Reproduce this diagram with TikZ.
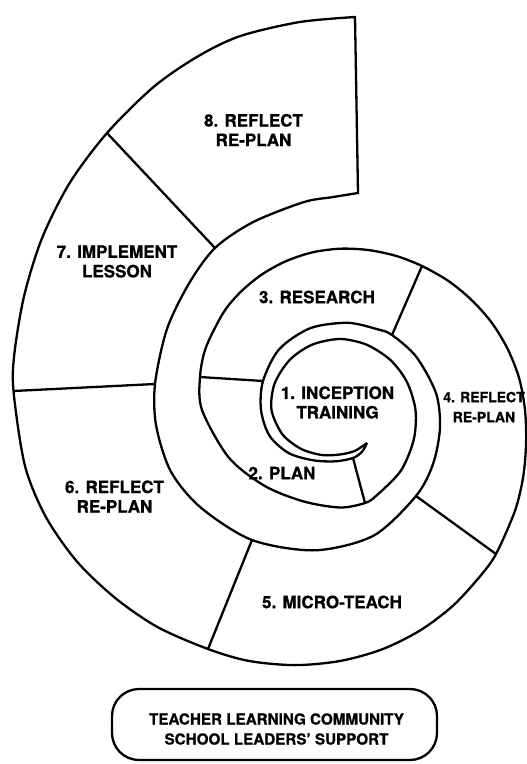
\documentclass[tikz,border=0pt]{standalone}
\usepackage{fontspec}
\setmainfont{TeX Gyre Heros}[BoldFeatures={FakeBold=0.8}]
\begin{document}
\begin{tikzpicture}[x=1pt,y=-1pt,
  shell/.style={line width=2.3pt, line join=miter, miter limit=20},
  wall/.style={line width=2.3pt},
  lbl/.style={font=\bfseries\fontsize{17}{19.5}\selectfont, align=center, inner sep=0pt},
  smalllbl/.style={font=\bfseries\fontsize{14}{20}\selectfont, align=center, inner sep=0pt},
  boxlbl/.style={font=\bfseries\fontsize{15.2}{20}\selectfont, align=center, inner sep=0pt}]

\useasboundingbox[fill=white] (0,0) rectangle (527,764);

% points where the chamber walls meet the two spiral edges
\coordinate (tip)  at (367,443);
\coordinate (q12)  at (353,458); \coordinate (p12) at (365,503);
\coordinate (p23)  at (200,377); \coordinate (q23) at (263,381);
\coordinate (p34)  at (422,266); \coordinate (q34) at (392,335);
\coordinate (q45)  at (416,496); \coordinate (p45) at (496,554);
\coordinate (q56)  at (252,540); \coordinate (p56) at (208,649);
\coordinate (q67)  at (155,384); \coordinate (p67) at (13.5,391);
\coordinate (q78)  at (215,248); \coordinate (p78) at (107,133);
\coordinate (pend) at (355,17);  \coordinate (qend) at (358,193);

% the shell: outer spiral edge from the tip, the end wall, inner edge back to the tip
\draw[shell]
  plot[smooth, tension=0.5] coordinates {
    (tip) (354.9,450.9) (340,454.5) (321.8,455) (301.1,448.9) (282.5,434.4)
    (271.5,410) (274.6,383.6) (289.8,359.8) (312.3,344.6) (340,339)
    (366.4,344.6) (390.2,359.8) (406.8,381.7) (415.5,410) (413.7,439.8)
    (400.8,470.8) (376.4,495.6) (p12) (340,507.5) (303.1,501.3)
    (264.3,485.7) (228.6,457.3) (202,410) (p23) (205.9,347.5)
    (223.6,312.3) (240.8,291.8) (261.8,274.5) (285.9,261.2) (312.2,252.4)
    (340,248.7) (368.2,250) (396.1,255.9) (p34) (448.3,280.9)
    (471.4,299.8) (491.6,322.5) (507.7,349) (519.2,378.4) (525,410)
    (526.1,442.8) (523.2,476.7) (514.9,511) (p45) (479.8,576.6)
    (453,605.7) (420.2,630.4) (382.2,649.3) (340,661) (295,665.1)
    (248.7,660.9) (p56) (157.8,627.2) (115.6,598.3) (77.2,561.8)
    (45.9,517) (24.9,465.6) (p67) (14.5,352.6) (24.3,295.1) (42.1,238)
    (69.6,183.1) (p78) (153.5,87) (197.3,56.7) (239.8,36.2)
    (299.2,22.1) (pend)}
  -- plot[smooth, tension=0.5] coordinates {
    (qend) (332.6,197.1) (303.4,202.2) (252.5,222.4) (q78) (189.1,283.3)
    (166.9,329.2) (q67) (156.2,426.1) (170.9,471.6) (200.7,507.5) (q56)
    (315.3,550.3) (373.6,535.6) (q45) (433.1,463.8) (440,427.6)
    (436,393.1) (416.2,356.7) (q34) (377.6,329.3) (347.6,322.8)
    (310.2,328.2) (279.2,349.2) (q23) (261,410) (269.5,435.7)
    (288.7,453.1) (313.3,460.3) (335.5,461.3) (q12) (362.1,451.7) (tip)};

% chamber walls
\draw[wall] (q12) -- (p12);
\draw[wall] (q23) -- (p23);
\draw[wall] (q34) -- (p34);
\draw[wall] (q45) -- (p45);
\draw[wall] (q56) -- (p56);
\draw[wall] (q67) -- (p67);
\draw[wall] (q78) -- (p78);

% chamber labels
\node[lbl] (s1) at (337.5,402.5) {1. INCEPTION\\TRAINING};
\node[lbl] (s2) at (282,473) {2. PLAN};
\node[lbl] (s3) at (317,297) {3. RESEARCH};
\node[smalllbl] (s4) at (484,407) {4. REFLECT\\RE-PLAN};
\node[lbl] (s5) at (332,602) {5. MICRO-TEACH};
\node[lbl] (s6) at (114.5,496.5) {6. REFLECT\\RE-PLAN};
\node[lbl] (s7) at (117,261.5) {7. IMPLEMENT\\LESSON};
\node[lbl] (s8) at (253.5,130) {8. REFLECT\\RE-PLAN};

% support box underneath
\coordinate (boxnw) at (112,689);
\coordinate (boxse) at (437,760);
\draw[wall, rounded corners=27pt] (boxnw) rectangle (boxse);
\node[boxlbl] (support) at (276.5,729) {TEACHER LEARNING COMMUNITY\\SCHOOL LEADERS’ SUPPORT};
\end{tikzpicture}
\end{document}
